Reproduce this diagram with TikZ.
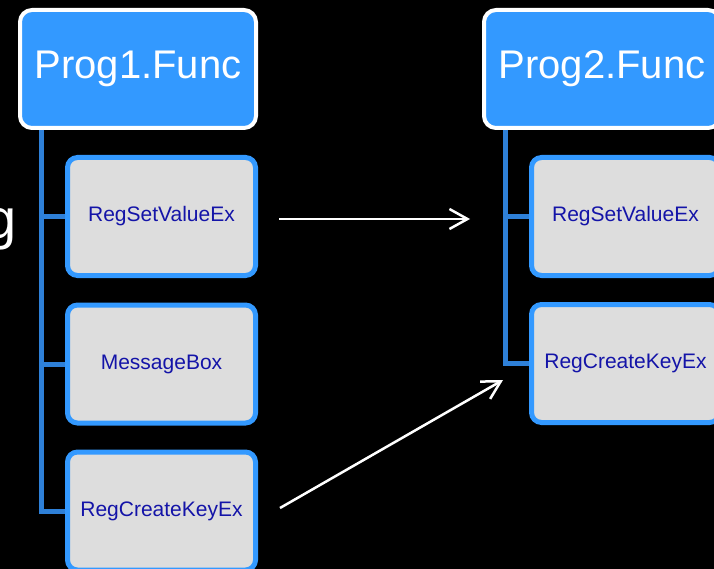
\documentclass[tikz,border=0pt]{standalone}
\usepackage{fontspec}
\setmainfont{Liberation Sans}
\usetikzlibrary{arrows.meta}
\definecolor{progblue}{HTML}{3399FF}
\definecolor{connblue}{HTML}{2E80D8}
\definecolor{txtblue}{HTML}{1414A8}
\definecolor{hatchgray}{HTML}{DDDDDD}
\tikzset{
  progbox/.style={draw=white, line width=4pt, fill=progblue, rounded corners=12pt,
    minimum width=236pt, minimum height=118pt, inner sep=0pt,
    text=white, font=\fontsize{40}{44}\selectfont},
  callbox/.style={draw=progblue, line width=5pt, fill=hatchgray, rounded corners=10pt,
    minimum width=188pt, minimum height=118pt, inner sep=0pt,
    text=txtblue, font=\fontsize{21}{24}\selectfont},
  conn/.style={draw=connblue, line width=5pt},
  flow/.style={draw=white, line width=2.5pt, -{Straight Barb[length=18pt,width=20pt,line width=2.5pt]}},
}
\begin{document}
\begin{tikzpicture}[x=1pt,y=-1pt]
\useasboundingbox (0,0) rectangle (714,569);
\fill[black] (0,0) rectangle (714,569);
\clip (0,0) rectangle (714,569);

\node[anchor=base east, inner sep=0pt, text=white, font=\fontsize{56}{60}\selectfont] (gtxt) at (17,238) {g};

% left tree
\node[progbox] (P1) at (138,69) {Prog1.Func};
\node[callbox] (C1) at (161.5,216.5) {RegSetValueEx};
\node[callbox] (C2) at (161.5,364) {MessageBox};
\node[callbox] (C3) at (161.5,511) {RegCreateKeyEx};

\coordinate (T1) at ([xshift=23.5pt]P1.south west);
\draw[conn] (T1) |- (C3.west);
\draw[conn] (C1.west) -- (C1.west -| T1);
\draw[conn] (C2.west) -- (C2.west -| T1);

% right tree
\node[progbox] (P2) at (602,69) {Prog2.Func};
\node[callbox] (R1) at (625.5,216.5) {RegSetValueEx};
\node[callbox] (R2) at (625.5,363.5) {RegCreateKeyEx};

\coordinate (T2) at ([xshift=23.7pt]P2.south west);
\draw[conn] (T2) |- (R2.west);
\draw[conn] (R1.west) -- (R1.west -| T2);

% arrows
\coordinate (a1s) at (279,219);
\coordinate (a1e) at (470,219);
\coordinate (a2s) at (280,508);
\coordinate (a2e) at (503,380);
\draw[flow] (a1s) -- (a1e);
\draw[flow] (a2s) -- (a2e);
\end{tikzpicture}
\end{document}
